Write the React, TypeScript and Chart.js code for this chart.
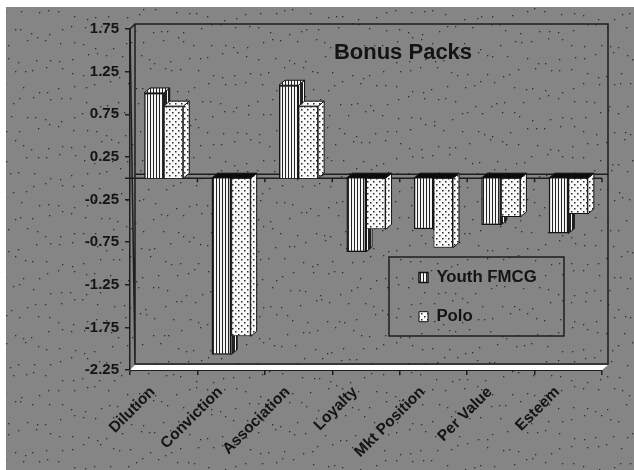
import React, { useEffect, useRef } from "react";
import { Chart, registerables } from "chart.js";

Chart.register(...registerables);

const categories = ["Dilution", "Conviction", "Association", "Loyalty", "Mkt Position", "Per Value", "Esteem"];
const youthFmcg = [1.0, -2.07, 1.09, -0.865, -0.6, -0.55, -0.65];
const polo = [0.845, -1.855, 0.845, -0.6, -0.815, -0.455, -0.42];
const yTicks = [1.75, 1.25, 0.75, 0.25, -0.25, -0.75, -1.25, -1.75, -2.25];
const seriesNames = ["Youth FMCG", "Polo"];
const chartTitle = "Bonus Packs";

const BG = "#858585";
const INK = "#141414";
const LINE = "#1e1e1e";
const DX = 6;
const DY = 5;

function makePattern(w: number, h: number, paint: (c: CanvasRenderingContext2D) => void) {
  const cv = document.createElement("canvas");
  cv.width = w;
  cv.height = h;
  const c = cv.getContext("2d")!;
  paint(c);
  return c.createPattern(cv, "repeat")!;
}

function stripes(dark: number, light: number) {
  return makePattern(dark + light, 2, (c) => {
    c.fillStyle = "#f4f4f4";
    c.fillRect(0, 0, dark + light, 2);
    c.fillStyle = "#222";
    c.fillRect(0, 0, dark, 2);
  });
}

function dots() {
  return makePattern(6, 6, (c) => {
    c.fillStyle = "#f8f8f8";
    c.fillRect(0, 0, 6, 6);
    c.fillStyle = "#2a2a2a";
    c.fillRect(1, 1, 1.5, 1.5);
    c.fillRect(4, 4, 1.5, 1.5);
  });
}

function stipple(c: CanvasRenderingContext2D) {
  c.save();
  c.beginPath();
  c.rect(6, 7, 628, 463);
  c.clip();
  c.fillStyle = "#2e2e2e";
  for (let y = 14; y < 474; y += 14.5) {
    for (let x = 10; x < 640; x += 12.5) {
      const px = x + 4 * Math.sin(x * 0.13 + y * 0.7) + 2 * Math.sin(y * 1.9 + x * 0.41);
      const py = y + 4 * Math.sin(x * 0.05 + y * 0.21) + 2 * Math.sin(x * 0.37 + y * 0.53);
      c.fillRect(Math.round(px), Math.round(py), 1.3, 1.3);
    }
  }
  c.restore();
}

function poly(c: CanvasRenderingContext2D, pts: number[][], fill: any, stroke = true) {
  c.beginPath();
  pts.forEach((p, i) => (i ? c.lineTo(p[0], p[1]) : c.moveTo(p[0], p[1])));
  c.closePath();
  c.fillStyle = fill;
  c.fill();
  if (stroke) c.stroke();
}

export default function App() {
  const ref = useRef<HTMLCanvasElement>(null);

  useEffect(() => {
    const frontStripes = stripes(1, 2);
    const sideStripes = stripes(3, 1);
    const polka = dots();

    const drawFaces = (chart: any, meta: any, isYouth: boolean) => {
      const c = chart.ctx as CanvasRenderingContext2D;
      const y0 = chart.scales.y.getPixelForValue(0);
      c.save();
      c.strokeStyle = INK;
      c.lineWidth = 1;
      meta.data.forEach((el: any) => {
        const l = el.x - el.width / 2;
        const r = el.x + el.width / 2;
        const top = Math.min(el.y, el.base);
        const bot = Math.max(el.y, el.base);
        const side = isYouth ? sideStripes : polka;
        const topFill = el.y < y0 ? (isYouth ? frontStripes : polka) : "#0c0c0c";
        poly(
          c,
          [
            [r, top],
            [r + DX, top - DY],
            [r + DX, bot - DY],
            [r, bot],
          ],
          side
        );
        poly(
          c,
          [
            [l, top],
            [l + DX, top - DY],
            [r + DX, top - DY],
            [r, top],
          ],
          topFill
        );
      });
      c.restore();
    };

    const scene = {
      id: "scene",
      afterLayout(chart: any) {
        const a = chart.chartArea;
        const t = chart.titleBlock;
        t.left = a.left + 42;
        t.right = 634;
        t.width = t.right - t.left;
        const th = t.bottom - t.top;
        t.top = 38;
        t.bottom = 38 + th;

        const l = chart.legend;
        const pad = l.options.labels.padding;
        const w = l.width;
        const h = l.height;
        l.left = 419 - pad;
        l.top = 269 - pad;
        l.right = l.left + w;
        l.bottom = l.top + h;
        l.adjustHitBoxes();
      },
      beforeDraw(chart: any) {
        const c = chart.ctx as CanvasRenderingContext2D;
        const a = chart.chartArea;
        c.save();
        c.fillStyle = "#fff";
        c.fillRect(0, 0, 634, 470);
        c.fillStyle = BG;
        c.fillRect(6, 7, 628, 463);
        stipple(c);
        c.strokeStyle = LINE;
        c.lineWidth = 1.5;
        c.beginPath();
        c.moveTo(a.left, a.top);
        c.lineTo(a.left + DX - 1, a.top - DY);
        c.lineTo(a.right + DX, a.top - DY);
        c.lineTo(a.right + DX, a.bottom - DY - 1);
        c.lineTo(a.left + DX - 1, a.bottom - DY - 1);
        c.closePath();
        c.moveTo(a.left + DX - 1, a.top - DY);
        c.lineTo(a.left + DX - 1, a.bottom - DY - 1);
        c.stroke();
        // white floor of the 3-D box, painted over the wall's foot
        poly(
          c,
          [
            [a.left, a.bottom],
            [a.left + DX - 1, a.bottom - DY],
            [a.right + DX, a.bottom - DY],
            [a.right, a.bottom],
          ],
          "#fff",
          false
        );
        c.strokeRect(389, 257, 175, 79);
        c.restore();
      },
      beforeDatasetsDraw(chart: any) {
        const c = chart.ctx as CanvasRenderingContext2D;
        const a = chart.chartArea;
        const y0 = chart.scales.y.getPixelForValue(0);
        const xs = chart.scales.x;
        c.save();
        c.strokeStyle = LINE;
        c.lineWidth = 1.5;
        c.beginPath();
        c.moveTo(a.left + DX - 1, y0 - DY + 1);
        c.lineTo(a.right + DX, y0 - DY + 1);
        c.moveTo(a.left - 5, y0);
        c.lineTo(a.right, y0);
        categories.forEach((_, i) => {
          const x = xs.getPixelForValue(i) + (xs.getPixelForValue(1) - xs.getPixelForValue(0)) / 2;
          c.moveTo(x, y0);
          c.lineTo(x, y0 + 4);
        });
        c.stroke();
        c.restore();
      },
      // Polo's bars are painted first by the library, so Youth FMCG's depth faces
      // go underneath them here, and Polo's own faces right after its fronts.
      beforeDatasetDraw(chart: any, args: any) {
        if (args.index === 1) drawFaces(chart, chart.getDatasetMeta(0), true);
      },
      afterDatasetDraw(chart: any, args: any) {
        if (args.index === 1) drawFaces(chart, args.meta, false);
      },
    };

    const chart = new Chart(ref.current!, {
      type: "bar",
      data: {
        labels: categories,
        datasets: [
          {
            label: seriesNames[0],
            data: youthFmcg,
            backgroundColor: frontStripes,
            borderColor: INK,
            borderWidth: 1.5,
          },
          {
            label: seriesNames[1],
            data: polo,
            backgroundColor: polka,
            borderColor: INK,
            borderWidth: 1,
          },
        ],
      } as any,
      plugins: [scene as any],
      options: {
        animation: false,
        responsive: false,
        devicePixelRatio: 1,
        layout: { autoPadding: false, padding: { left: 0, top: 0, right: 32, bottom: 0 } },
        datasets: { bar: { categoryPercentage: 0.58, barPercentage: 1 } },
        plugins: {
          tooltip: { enabled: false },
          title: {
            display: true,
            text: chartTitle,
            color: INK,
            padding: 0,
            fullSize: true,
            font: { family: "'Liberation Sans'", size: 22, weight: "bold", lineHeight: 29 / 22 },
          },
          legend: {
            display: true,
            position: "chartArea",
            align: "start",
            labels: {
              boxWidth: 9,
              boxHeight: 10,
              padding: 22.5,
              color: INK,
              font: { family: "'Liberation Sans'", size: 16.8, weight: "bold" },
            },
          },
        },
        scales: {
          x: {
            afterFit: (s: any) => {
              s.height = 100;
            },
            border: { display: true, color: LINE, width: 1 },
            grid: { display: true, drawOnChartArea: false, drawTicks: true, tickLength: 5, color: LINE, lineWidth: 1.5 },
            ticks: {
              autoSkip: false,
              minRotation: 45,
              maxRotation: 45,
              padding: 8,
              labelOffset: -11,
              color: INK,
              font: { family: "'Liberation Sans'", size: 15.5, weight: "bold" },
            },
          },
          y: {
            min: -2.25,
            max: 1.75,
            afterFit: (s: any) => {
              s.width = 130;
            },
            afterBuildTicks: (s: any) => {
              s.ticks = yTicks.map((value) => ({ value }));
            },
            border: { display: true, color: LINE, width: 1.5 },
            grid: { display: true, drawOnChartArea: false, drawTicks: true, tickLength: 5, color: LINE, lineWidth: 1.5 },
            ticks: {
              padding: 6,
              color: INK,
              font: { family: "'Liberation Sans'", size: 15, weight: "bold" },
              callback: (v: any) => Number(v).toFixed(2),
            },
          },
        },
      } as any,
    });
    return () => chart.destroy();
  }, []);

  return (
    <div style={{ position: "fixed", left: 0, top: 0, width: 634, height: 470, background: "#fff" }}>
      <canvas ref={ref} width={634} height={470} style={{ display: "block", width: 634, height: 470, filter: "blur(0.35px)" }} />
    </div>
  );
}
